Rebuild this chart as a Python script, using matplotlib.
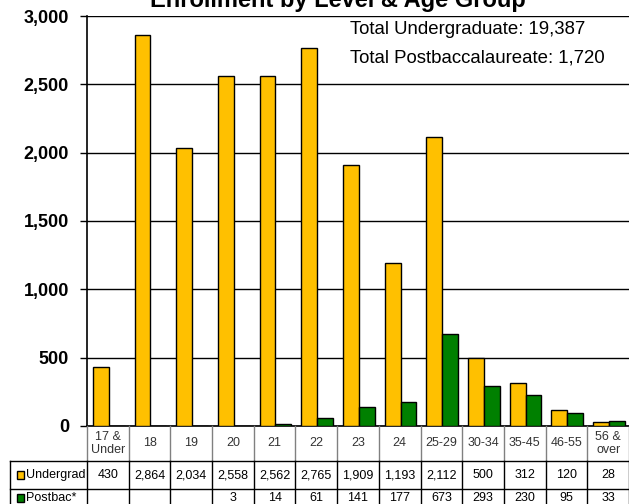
import matplotlib.pyplot as plt
from matplotlib.patches import Rectangle
import numpy as np

# data
ages = ['17 &\nUnder', '18', '19', '20', '21', '22', '23', '24',
        '25-29', '30-34', '35-45', '46-55', '56 &\nover']
undergrad = [430, 2864, 2034, 2558, 2562, 2765, 1909, 1193, 2112, 500, 312, 120, 28]
postbac = [0, 0, 0, 3, 14, 61, 141, 177, 673, 293, 230, 95, 33]
postbac_labels = ['', '', '', '3', '14', '61', '141', '177', '673', '293', '230', '95', '33']
yticks = [0, 500, 1000, 1500, 2000, 2500, 3000]

YELLOW = '#FFC000'
GREEN = '#008000'
W, H = 629, 504
plt.rcParams['font.family'] = ['Liberation Sans', 'DejaVu Sans']
TFS = 9  # table font size

fig = plt.figure(figsize=(W / 100, H / 100), dpi=100)

# main plot area, in pixels: x 87..629, y 16..426
ax_l, ax_r, ax_t, ax_b = 87, 629, 16, 426
ax = fig.add_axes([ax_l / W, 1 - ax_b / H, (ax_r - ax_l) / W, (ax_b - ax_t) / H])
x = np.arange(len(ages))
bw = 0.38
ax.bar(x - bw / 2 + 0.02, undergrad, bw, color=YELLOW, edgecolor='black', linewidth=1, zorder=3)
ax.bar(x + bw / 2 + 0.02, postbac, bw, color=GREEN, edgecolor='black', linewidth=1, zorder=3)
ax.set_xlim(-0.5, len(ages) - 0.5)
ax.set_ylim(0, 3000)
ax.set_yticks(yticks)
ax.set_yticklabels([f'{v:,}' for v in yticks], fontweight='bold', fontsize=13)
ax.tick_params(axis='y', direction='out', length=5, width=1, pad=8)
ax.set_xticks([])
ax.grid(axis='y', color='black', linewidth=1, zorder=0)
for s in ['top', 'right']:
    ax.spines[s].set_visible(False)
ax.spines['left'].set_linewidth(1.2)
ax.spines['bottom'].set_linewidth(1.2)

fig.text(350 / W, 1 - 30 / H, 'Total Undergraduate: 19,387', fontsize=13.4,
         va='center', ha='left')
fig.text(350 / W, 1 - 58 / H, 'Total Postbaccalaureate: 1,720', fontsize=13.4,
         va='center', ha='left')

fig.text(338 / W, 1 - 7 / H, 'Enrollment by Level & Age Group', ha='center',
         va='baseline', fontsize=17, fontweight='bold')

# data table below the axes, y in pixels from the top
slot = (ax_r - ax_l) / len(ages)
tl = 10
tax = fig.add_axes([tl / W, 0, (ax_r - tl) / W, (H - ax_b) / H])
tax.set_xlim(-0.5 - (ax_l - tl) / slot, len(ages) - 0.5)
tax.set_ylim(H, ax_b)
tax.axis('off')
left_edge = -0.5 - (ax_l - tl) / slot
r_head, r_ug, r_pb, r_end = ax_b, 461, 489, 517

for i in range(len(ages) + 1):
    xb = i - 0.5
    tax.plot([xb, xb], [r_head, r_ug], color='#808080', lw=1, clip_on=False)
    tax.plot([xb, xb], [r_ug, r_end], color='black', lw=1, clip_on=False)
tax.plot([left_edge, left_edge], [r_ug, r_end], color='black', lw=1, clip_on=False)
for yy in [r_ug, r_pb]:
    tax.plot([left_edge, len(ages) - 0.5], [yy, yy], color='black', lw=1, clip_on=False)

for i, lab in enumerate(ages):
    tax.text(i, (r_head + r_ug) / 2, lab, ha='center', va='center', fontsize=TFS,
             color='#333333', linespacing=1.1)
    tax.text(i, (r_ug + r_pb) / 2, f'{undergrad[i]:,}', ha='center', va='center',
             fontsize=TFS)
    tax.text(i, 498, postbac_labels[i], ha='center', va='center',
             fontsize=TFS, clip_on=False)

for row_y, name, col in [((r_ug + r_pb) / 2, 'Undergrad', YELLOW),
                         (498, 'Postbac*', GREEN)]:
    kx = left_edge + 7 / slot
    tax.add_patch(Rectangle((kx, row_y - 4), 7 / slot, 8, facecolor=col,
                            edgecolor='black', lw=1, clip_on=False))
    tax.text(kx + 9 / slot, row_y, name, ha='left', va='center', fontsize=TFS,
             clip_on=False)

fig.savefig('out.png', dpi=100)
